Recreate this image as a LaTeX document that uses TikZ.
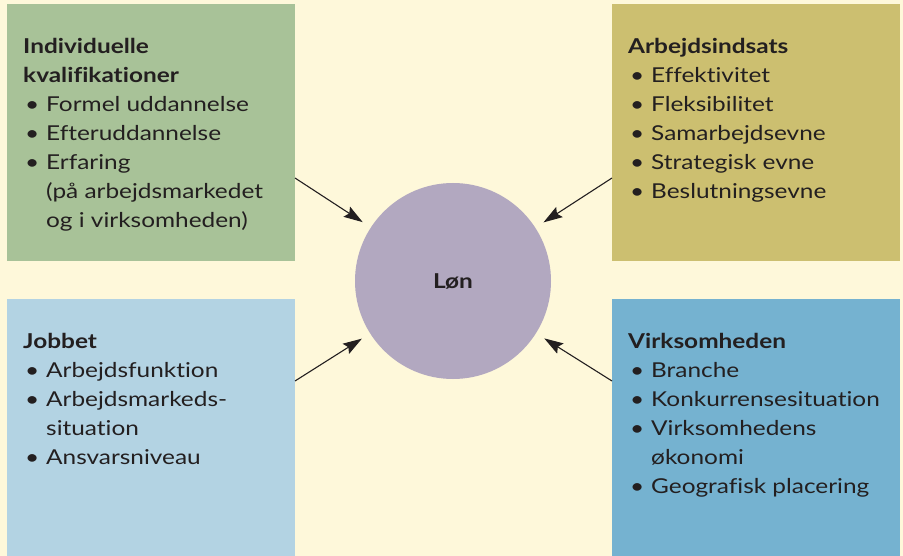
\documentclass[tikz,border=0pt]{standalone}
\usepackage{fontspec}
\setmainfont[FakeStretch=1.19,Ligatures={NoCommon}]{Lato}
\usetikzlibrary{arrows.meta}
\definecolor{bg}{RGB}{254,248,218}
\definecolor{cgreen}{RGB}{168,194,152}
\definecolor{cyellow}{RGB}{204,191,112}
\definecolor{clblue}{RGB}{179,211,227}
\definecolor{cdblue}{RGB}{117,178,208}
\definecolor{ccircle}{RGB}{178,168,192}
\definecolor{ink}{RGB}{35,31,32}
\newcommand{\itm}{\makebox[23pt][l]{\hspace{2pt}\textbullet}}
\newcommand{\cnt}{\hspace*{23pt}}
\begin{document}
\begin{tikzpicture}[x=1pt,y=-1pt,
  box/.style={rectangle,draw=none,anchor=north west,inner sep=0pt,minimum width=288pt,minimum height=257pt},
  txt/.style={anchor=north west,inner sep=0pt,align=left,text=ink,font=\fontsize{20.5}{29}\selectfont},
  arr/.style={-{Stealth[length=19pt,width=12pt,inset=3pt]},line width=1.1pt,draw=ink,shorten >=9.6pt}]
\fill[bg] (0,0) rectangle (903,556);
\useasboundingbox (0,0) rectangle (903,556);
\node[box,fill=cgreen] (g) at (7,4) {};
\node[box,fill=cyellow] (y) at (612,4) {};
\node[box,fill=clblue] (lb) at (7,299) {};
\node[box,fill=cdblue] (db) at (612,299) {};
\node[circle,fill=ccircle,minimum size=196pt,inner sep=0pt,text=ink,font=\fontsize{20.5}{29}\selectfont\bfseries] (c) at (453,281) {Løn};
\node[txt] (tg) at (23,32.7) {\strut\textbf{Individuelle}\\\textbf{kvalifikationer}\\\itm Formel uddannelse\\\itm Efteruddannelse\\\itm Erfaring\\\cnt(på arbejdsmarkedet\\\cnt og i virksomheden)};
\node[txt] (ty) at (628,32.7) {\strut\textbf{Arbejdsindsats}\\\itm Effektivitet\\\itm Fleksibilitet\\\itm Samarbejdsevne\\\itm Strategisk evne\\\itm Beslutningsevne};
\node[txt] (tlb) at (23,327.7) {\strut\textbf{Jobbet}\\\itm Arbejdsfunktion\\\itm Arbejdsmarkeds-\\\cnt situation\\\itm Ansvarsniveau};
\node[txt] (tdb) at (628,327.7) {\strut\textbf{Virksomheden}\\\itm Branche\\\itm Konkurrensesituation\\\itm Virksomhedens\\\cnt økonomi\\\itm Geografisk placering};
\coordinate (sg) at (295,178);
\coordinate (sy) at (612,178);
\coordinate (slb) at (295,381);
\coordinate (sdb) at (612,381);
\draw[arr] (sg) -- (c);
\draw[arr] (sy) -- (c);
\draw[arr] (slb) -- (c);
\draw[arr] (sdb) -- (c);
\end{tikzpicture}
\end{document}
